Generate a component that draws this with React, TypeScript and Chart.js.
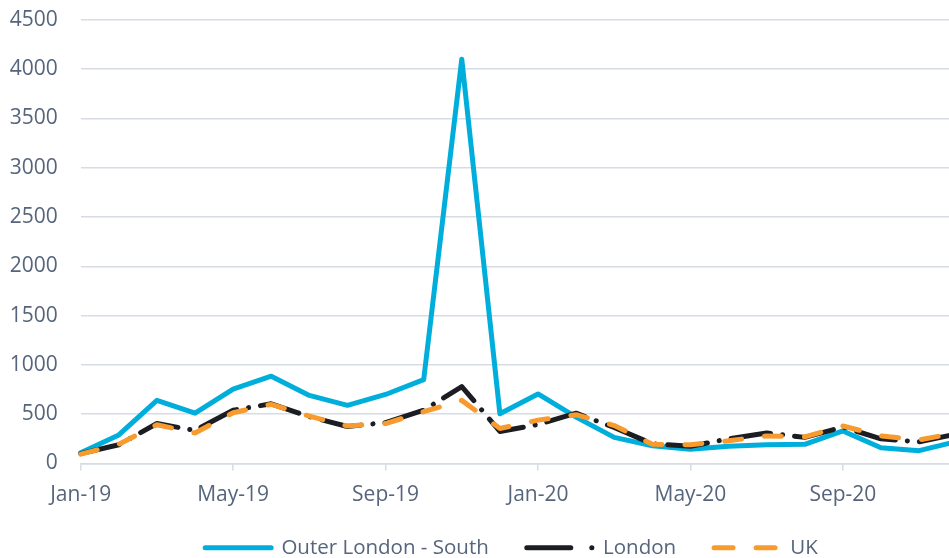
import React, { useEffect, useRef } from 'react';
import { Chart, registerables } from 'chart.js';

Chart.register(...registerables);

const months = [
  'Jan-19', 'Feb-19', 'Mar-19', 'Apr-19', 'May-19', 'Jun-19', 'Jul-19', 'Aug-19', 'Sep-19', 'Oct-19', 'Nov-19', 'Dec-19',
  'Jan-20', 'Feb-20', 'Mar-20', 'Apr-20', 'May-20', 'Jun-20', 'Jul-20', 'Aug-20', 'Sep-20', 'Oct-20', 'Nov-20', 'Dec-20',
];
const outerLondonSouth = [110, 290, 640, 510, 755, 885, 690, 590, 700, 850, 4100, 505, 705, 470, 265, 180, 145, 175, 190, 195, 330, 160, 130, 225];
const london = [100, 190, 405, 335, 540, 605, 475, 375, 415, 540, 780, 325, 395, 510, 365, 200, 175, 250, 310, 265, 370, 250, 220, 300];
const uk = [95, 195, 393, 310, 515, 600, 480, 380, 405, 525, 640, 355, 440, 495, 385, 195, 190, 230, 280, 270, 380, 280, 240, 310];
const seriesNames = ['Outer London - South', 'London', 'UK'];
const yMin = 0;
const yMax = 4500;
const yStep = 500;
const labelEvery = 4;

const CANVAS_W = 1023;
const CANVAS_H = 568;
const PLOT_LEFT = 80.7;
const PLOT_RIGHT = 957.2;
const PLOT_TOP = 19.7;

const textColor = '#56657b';
const gridColor = '#d6dbe4';
const fontFamily = "'Open Sans', sans-serif";
const colors = ['#00AEDB', '#1b1d22', '#F89B2E'];
const dataDashes = [[], [40, 12, 0.1, 12], [17, 23]];
const legendDashes = [[], [44, 21, 0.1, 100], [19, 23]];

export default function App() {
  const ref = useRef<HTMLCanvasElement | null>(null);

  useEffect(() => {
    if (!ref.current) return;
    const series = [outerLondonSouth, london, uk];
    const chart = new Chart(ref.current, {
      type: 'line',
      data: {
        labels: months,
        datasets: series.map((d, i) => ({
          label: seriesNames[i],
          data: d,
          borderColor: colors[i],
          backgroundColor: colors[i],
          borderWidth: 5,
          borderDash: dataDashes[i],
          borderCapStyle: 'round' as const,
          borderJoinStyle: 'round' as const,
          pointRadius: 0,
          pointHoverRadius: 0,
          tension: 0,
          fill: false,
          order: 2 - i,
        })),
      },
      options: {
        animation: false,
        responsive: false,
        maintainAspectRatio: false,
        layout: { padding: 0 },
        plugins: {
          tooltip: { enabled: false },
          legend: {
            position: 'bottom',
            labels: {
              usePointStyle: true,
              pointStyleWidth: 66,
              padding: 38,
              color: textColor,
              font: { family: fontFamily, size: 20.5 },
              generateLabels: (c: any) =>
                c.data.datasets.map((ds: any, i: number) => ({
                  text: ds.label,
                  fillStyle: colors[i],
                  strokeStyle: colors[i],
                  lineWidth: 5,
                  lineDash: legendDashes[i],
                  lineCap: 'round',
                  pointStyle: 'line',
                  hidden: false,
                  datasetIndex: i,
                  fontColor: textColor,
                })),
            },
          },
        },
        scales: {
          x: {
            type: 'category',
            offset: false,
            afterBuildTicks: (s: any) => {
              s.ticks = s.ticks.filter((t: any) => t.value % labelEvery === 0);
            },
            afterFit: (s: any) => {
              s.height = 36;
              s._computeLabelArea = () => undefined;
            },
            grid: {
              display: true,
              drawOnChartArea: false,
              drawTicks: true,
              tickLength: 7,
              color: gridColor,
              lineWidth: 1.5,
            },
            border: { display: true, color: gridColor, width: 1.5 },
            ticks: {
              autoSkip: false,
              maxRotation: 0,
              padding: 12,
              color: textColor,
              font: { family: fontFamily, size: 21 },
            },
          },
          y: {
            position: 'left',
            min: yMin,
            max: yMax,
            afterFit: (s: any) => {
              s.width = PLOT_LEFT;
              s.paddingTop = PLOT_TOP;
              s.paddingBottom = 0;
            },
            grid: { color: gridColor, lineWidth: 1.5, drawTicks: false },
            border: { display: false },
            ticks: {
              stepSize: yStep,
              padding: 23,
              color: textColor,
              font: { family: fontFamily, size: 21 },
              callback: (v: any) => String(v),
            },
          },
          yRight: {
            position: 'right',
            display: true,
            afterFit: (s: any) => {
              s.width = CANVAS_W - PLOT_RIGHT;
              s.paddingTop = 0;
              s.paddingBottom = 0;
            },
            grid: { display: false },
            border: { display: false },
            ticks: { display: false },
          },
        },
      },
    });
    return () => chart.destroy();
  }, []);

  return (
    <div style={{ position: 'absolute', left: 0, top: 0, width: 949, height: 558, overflow: 'hidden', background: '#fff' }}>
      <canvas ref={ref} width={CANVAS_W} height={CANVAS_H} style={{ display: 'block', width: CANVAS_W, height: CANVAS_H }} />
    </div>
  );
}
